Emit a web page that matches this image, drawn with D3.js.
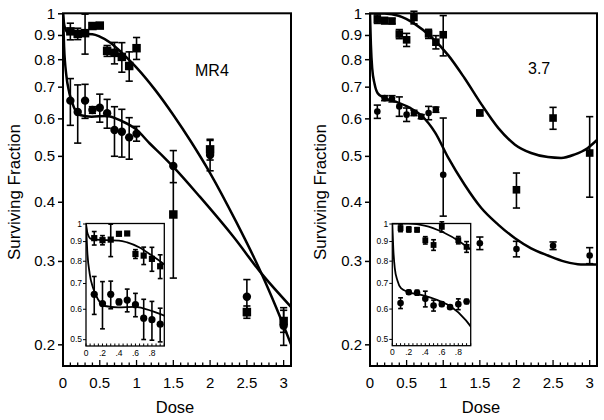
<!DOCTYPE html>
<html><head><meta charset="utf-8">
<script src="https://cdn.jsdelivr.net/npm/d3@7"></script>
<style>
body{margin:0;background:#fff}
svg{display:block}
text{font-family:Arial,"Liberation Sans",sans-serif;fill:#000}
</style>
</head><body>
<svg id="chart" width="604" height="420"></svg>
<script>
// ---------------- data ----------------
const leftDose   = [0.1,0.2,0.3,0.4,0.5,0.6,0.7,0.8,0.9,1.0,1.5,2.0,2.5,3.0];
const leftSq     = [0.916,0.905,0.908,0.940,0.942,0.833,0.825,0.809,0.774,0.844,0.376,0.516,0.234,0.224];
const leftSqErr  = [0.037,0.025,0.088,0.008,0.006,0.022,0.043,0.058,0.055,0.045,0.100,0.026,0.007,0.012];
const leftCi     = [0.654,0.619,0.654,0.625,0.632,0.615,0.567,0.562,0.547,0.557,0.476,0.502,0.252,0.219];
const leftCiErr  = [0.074,0.087,0.054,0.010,0.043,0.043,0.068,0.065,0.055,0.020,0.037,0.037,0.022,0.020];

const rightSqDose = [0.1,0.2,0.3,0.4,0.5,0.6,0.8,0.9,1.0,1.5,2.0,2.5,3.0];
const rightSq     = [0.972,0.965,0.963,0.904,0.879,0.980,0.905,0.869,0.901,0.616,0.424,0.601,0.507];
const rightSqErr  = [0.020,0.015,0.012,0.020,0.028,0.030,0.020,0.028,0.088,0.008,0.036,0.032,0.098];
const rightCiDose = [0.1,0.2,0.3,0.4,0.5,0.6,0.7,0.8,0.9,1.0,1.5,2.0,2.5,3.0];
const rightCi     = [0.620,0.662,0.660,0.636,0.611,0.616,0.605,0.616,0.626,0.456,0.327,0.318,0.323,0.308];
const rightCiErrDown = [0.020,0.008,0.010,0.030,0.020,0.008,0.006,0.020,0.008,0.083,0.010,0.012,0.006,0.012];
const rightCiErrUp   = [0.020,0.008,0.010,0.030,0.020,0.008,0.006,0.020,0.008,0.145,0.010,0.012,0.006,0.012];

// fitted curves
const leftFitSqX = [0,0.02,0.06,0.25,0.4,0.5,0.65,0.8,1.0,1.25,1.5,1.75,2.0,2.35,2.7,2.9,3.1];
const leftFitSqY = [1.0,0.94,0.912,0.905,0.903,0.893,0.866,0.825,0.768,0.690,0.610,0.533,0.460,0.364,0.282,0.239,0.2];
const leftFitCiX = [0,0.015,0.045,0.085,0.145,0.23,0.39,0.59,0.8,1.0,1.18,1.36,1.5,1.86,2.32,2.7,3.1];
const leftFitCiY = [1.0,0.85,0.74,0.68,0.635,0.61,0.605,0.607,0.592,0.568,0.531,0.499,0.474,0.41,0.337,0.282,0.24];
const rightFitSqX = [0,0.2,0.39,0.61,0.84,1.07,1.29,1.52,1.75,1.98,2.2,2.43,2.61,2.79,2.97,3.1];
const rightFitSqY = [1.0,0.999,0.988,0.95,0.89,0.815,0.73,0.643,0.573,0.528,0.507,0.497,0.495,0.503,0.519,0.54];
const rightFitCiX = [0,0.012,0.03,0.062,0.105,0.19,0.36,0.54,0.7,0.89,1.07,1.29,1.52,1.75,1.98,2.2,2.43,2.66,2.88,3.1];
const rightFitCiY = [1.0,0.86,0.765,0.71,0.678,0.663,0.65,0.632,0.609,0.56,0.495,0.435,0.388,0.358,0.335,0.319,0.308,0.299,0.295,0.295];

const mainYTicks = [0.2,0.3,0.4,0.5,0.6,0.7,0.8,0.9,1];
const mainXLabels = [0,0.5,1,1.5,2,2.5,3];
const insetYTicks = [0.5,0.6,0.7,0.8,0.9,1];
const insetXLabels = [0,0.2,0.4,0.6,0.8];
const panelLabels = ["MR4","3.7"];
const xTitle = "Dose", yTitle = "Surviving Fraction";

// ---------------- layout ----------------
const layouts = [
  {x0:63, x1:291, y0:13.3, y1:366, lab:[195,76], yT:19.5, xT:175,
   inset:{x0:86, x1:164.3, y0:223.5, y1:346}, cR:4.2, sS:8.5, icR:3.6, isS:6.2},
  {x0:370, x1:597, y0:13.3, y1:366, lab:[528,74], yT:326, xT:481,
   inset:{x0:392.3, x1:470.7, y0:223.5, y1:345.7}, cR:3.3, sS:7.6, icR:3.3, isS:5.8}
];
const panelsData = [
  {sq:{x:leftDose, y:leftSq, dn:leftSqErr, up:leftSqErr},
   ci:{x:leftDose, y:leftCi, dn:leftCiErr, up:leftCiErr},
   fits:[[leftFitSqX,leftFitSqY],[leftFitCiX,leftFitCiY]]},
  {sq:{x:rightSqDose, y:rightSq, dn:rightSqErr, up:rightSqErr},
   ci:{x:rightCiDose, y:rightCi, dn:rightCiErrDown, up:rightCiErrUp},
   fits:[[rightFitSqX,rightFitSqY],[rightFitCiX,rightFitCiY]]}
];

const svg = d3.select("#chart");
svg.append("rect").attr("width",604).attr("height",420).attr("fill","#fff");

function fmt(d){ return d===1 ? "1" : (d===0 ? "0" : String(d)); }
function fmtInsetX(d){ return d===0 ? "0" : String(d).replace(/^0/,""); }

function drawSeries(g, x, y, s, shape, r, cap, maxX){
  const idx = d3.range(s.x.length).filter(i => s.x[i] <= maxX);
  const eb = g.append("g").attr("stroke","#000").attr("stroke-width",1.6);
  idx.forEach(i=>{
    const px = x(s.x[i]);
    const yt = y(s.y[i]+s.up[i]), yb = y(s.y[i]-s.dn[i]);
    eb.append("line").attr("x1",px).attr("x2",px).attr("y1",yt).attr("y2",yb);
    eb.append("line").attr("x1",px-cap).attr("x2",px+cap).attr("y1",yt).attr("y2",yt);
    eb.append("line").attr("x1",px-cap).attr("x2",px+cap).attr("y1",yb).attr("y2",yb);
  });
  idx.forEach(i=>{
    const px = x(s.x[i]), py = y(s.y[i]);
    if(shape==="c") g.append("circle").attr("cx",px).attr("cy",py).attr("r",r).attr("fill","#000");
    else g.append("rect").attr("x",px-r/2).attr("y",py-r/2).attr("width",r).attr("height",r).attr("fill","#000");
  });
}

layouts.forEach((L, p) => {
  const D = panelsData[p];
  const g = svg.append("g");
  const x = d3.scaleLinear().domain([0,3.1]).range([L.x0, L.x1]);
  const y = d3.scaleLog().domain([0.18,1]).range([L.y1, L.y0]);

  const cid = "clipMain"+p;
  svg.append("clipPath").attr("id",cid).append("rect")
     .attr("x",L.x0).attr("y",L.y0).attr("width",L.x1-L.x0).attr("height",L.y1-L.y0);

  // y axis
  const ya = g.append("g").attr("transform",`translate(${L.x0},0)`)
    .call(d3.axisLeft(y).tickValues(mainYTicks).tickFormat(fmt).tickSize(5).tickPadding(3).tickSizeOuter(0));
  ya.select(".domain").remove();
  ya.selectAll("line").attr("stroke","#000").attr("stroke-width",1.5);
  ya.selectAll("text").attr("font-size",15).attr("font-family","Arial, 'Liberation Sans', sans-serif");

  // x inward ticks
  const xt = g.append("g").attr("stroke","#000").attr("stroke-width",1.3);
  d3.range(0,31).forEach(k=>{
    const v = k/10;
    const major = k%5===0;
    xt.append("line").attr("x1",x(v)).attr("x2",x(v)).attr("y1",L.y1).attr("y2",L.y1-(major?6:3.5));
  });
  g.append("g").selectAll("text").data(mainXLabels).join("text")
    .attr("x",d=>x(d)).attr("y",388).attr("text-anchor","middle").attr("font-size",15).text(fmt);

  // curves
  const line = d3.line().x(d=>x(d[0])).y(d=>y(d[1])).curve(d3.curveMonotoneX);
  const cg = g.append("g").attr("clip-path",`url(#${cid})`);
  D.fits.forEach(f=>{
    cg.append("path").attr("d", line(f[0].map((v,i)=>[v,f[1][i]])))
      .attr("fill","none").attr("stroke","#000").attr("stroke-width",2.5);
  });

  // data
  const dg = g.append("g");
  drawSeries(dg, x, y, D.sq, "s", L.sS, 3.6, 9);
  drawSeries(dg, x, y, D.ci, "c", L.cR, 3.6, 9);

  // frame
  g.append("rect").attr("x",L.x0).attr("y",L.y0).attr("width",L.x1-L.x0).attr("height",L.y1-L.y0)
    .attr("fill","none").attr("stroke","#000").attr("stroke-width",2);

  // titles
  g.append("text").attr("x",L.lab[0]).attr("y",L.lab[1]).attr("font-size",16).text(panelLabels[p]);
  g.append("text").attr("x",L.xT).attr("y",413).attr("text-anchor","middle").attr("font-size",16.5).text(xTitle);
  g.append("text").attr("transform",`translate(${L.yT},192) rotate(-90)`).attr("text-anchor","middle")
    .attr("font-size",17).text(yTitle);

  // ---------- inset ----------
  const I = L.inset;
  const ix = d3.scaleLinear().domain([0,0.95]).range([I.x0, I.x1]);
  const iy = d3.scaleLog().domain([0.48,1]).range([I.y1, I.y0]);
  const ig = svg.append("g");
  ig.append("rect").attr("x",I.x0).attr("y",I.y0).attr("width",I.x1-I.x0).attr("height",I.y1-I.y0).attr("fill","#fff");
  const icid = "clipInset"+p;
  svg.append("clipPath").attr("id",icid).append("rect")
     .attr("x",I.x0).attr("y",I.y0).attr("width",I.x1-I.x0).attr("height",I.y1-I.y0);

  const iya = ig.append("g").attr("transform",`translate(${I.x0},0)`)
    .call(d3.axisLeft(iy).tickValues(insetYTicks).tickFormat(fmt).tickSize(3).tickPadding(1).tickSizeOuter(0));
  iya.select(".domain").remove();
  iya.selectAll("line").attr("stroke","#000").attr("stroke-width",1);
  iya.selectAll("text").attr("font-size",8.5).attr("font-family","Arial, 'Liberation Sans', sans-serif");

  const ixt = ig.append("g").attr("stroke","#000").attr("stroke-width",1);
  d3.range(0,20).forEach(k=>{
    const v = k*0.05;
    ixt.append("line").attr("x1",ix(v)).attr("x2",ix(v)).attr("y1",I.y1).attr("y2",I.y1-2.5);
  });
  ig.append("g").selectAll("text").data(insetXLabels).join("text")
    .attr("x",d=>ix(d)).attr("y",I.y1+9.5).attr("text-anchor","middle").attr("font-size",8.5).text(fmtInsetX);

  const iline = d3.line().x(d=>ix(d[0])).y(d=>iy(d[1])).curve(d3.curveMonotoneX);
  const icg = ig.append("g").attr("clip-path",`url(#${icid})`);
  D.fits.forEach(f=>{
    icg.append("path").attr("d", iline(f[0].map((v,i)=>[v,f[1][i]])))
      .attr("fill","none").attr("stroke","#000").attr("stroke-width",1.8);
  });
  const idg = ig.append("g");
  drawSeries(idg, ix, iy, D.sq, "s", L.isS, 2.4, 0.95);
  drawSeries(idg, ix, iy, D.ci, "c", L.icR, 2.4, 0.95);

  ig.append("rect").attr("x",I.x0).attr("y",I.y0).attr("width",I.x1-I.x0).attr("height",I.y1-I.y0)
    .attr("fill","none").attr("stroke","#000").attr("stroke-width",1.3);
});
</script>
</body></html>
